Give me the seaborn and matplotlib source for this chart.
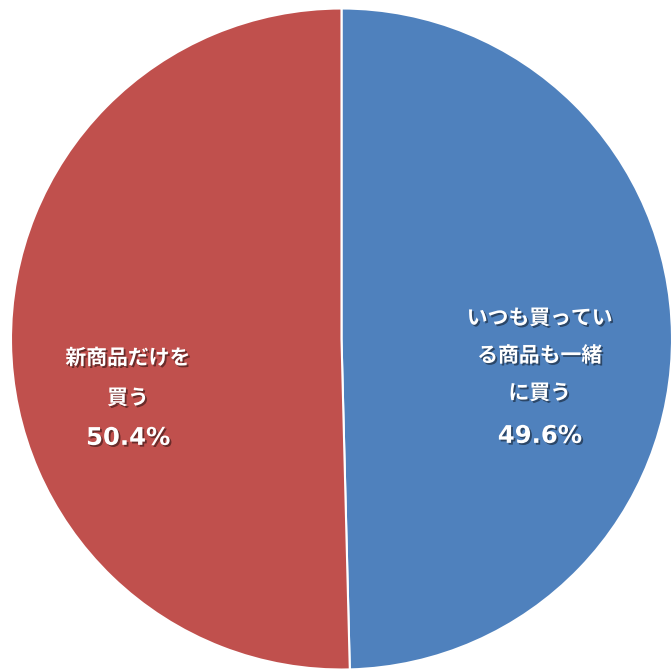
import matplotlib
matplotlib.use("Agg")
import matplotlib.pyplot as plt
import matplotlib.patheffects as pe
import seaborn as sns

sns.set_theme(style="white")
plt.rcParams["font.family"] = ["Noto Sans CJK JP", "DejaVu Sans"]

# Purchase behaviour shares (%)
labels = ["いつも買ってい\nる商品も一緒\nに買う", "新商品だけを\n買う"]
shares = [49.6, 50.4]
colors = ["#4F81BD", "#C0504D"]

fig = plt.figure(figsize=(6.72, 6.69), dpi=100)
ax = fig.add_axes([0, 0, 1, 1])

cx, cy, r = 341.5, 330.0, 330.5
wedges, _ = ax.pie(
    shares,
    colors=colors,
    startangle=90,
    counterclock=False,
    center=(cx, cy),
    radius=r,
    frame=True,
    wedgeprops=dict(edgecolor="white", linewidth=1.5),
)
ax.set_xlim(0, 672)
ax.set_ylim(0, 669)
ax.set_aspect("equal")
ax.axis("off")

shadow = [pe.withSimplePatchShadow(offset=(1.3, -1.3), shadow_rgbFace="black", alpha=0.45)]
name_kw = dict(color="white", fontsize=15, fontweight="bold", ha="center", va="center",
               path_effects=shadow)
pct_kw = dict(name_kw, family=["DejaVu Sans"], fontsize=17.5)

# label anchor (fraction of radius from centre), line step in px, and gap before the percentage
layouts = [
    dict(x=0.600, y_top=0.064, step=37.5, pct_gap=43),
    dict(x=-0.646, y_top=-0.057, step=40, pct_gap=40),
]
for lab, val, lay in zip(labels, shares, layouts):
    x = cx + lay["x"] * r
    y = cy + lay["y_top"] * r
    lines = lab.split("\n")
    for i, line in enumerate(lines):
        ax.text(x, y - i * lay["step"], line, **name_kw)
    y_pct = y - (len(lines) - 1) * lay["step"] - lay["pct_gap"]
    ax.text(x, y_pct, f"{val:.1f}%", **pct_kw)

fig.savefig("out.png", dpi=100)
